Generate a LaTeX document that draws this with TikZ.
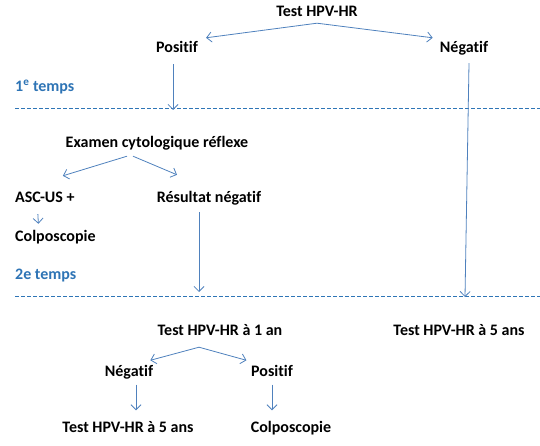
\documentclass[tikz,border=0pt]{standalone}
\usepackage{fontspec}
\setmainfont{Carlito}[Ligatures=NoCommon]
\usetikzlibrary{arrows.meta}
\definecolor{arrowblue}{HTML}{4F81BD}
\definecolor{dashblue}{HTML}{2E75B6}
\definecolor{labelblue}{HTML}{2E74B5}
\tikzset{
  lbl/.style={inner sep=2pt, text height=11pt, text depth=3pt, font=\fontsize{16}{19}\selectfont\bfseries},
  phase/.style={lbl, anchor=west, text=labelblue},
  arr/.style={draw=arrowblue, line width=0.8pt, -{Straight Barb[length=5pt,width=10pt]}},
  sep/.style={draw=dashblue, line width=0.9pt, dash pattern=on 4pt off 2pt}
}
\begin{document}
\begin{tikzpicture}[x=1pt,y=-1pt]
\useasboundingbox (0,0) rectangle (540,446);
% separators
\coordinate (s1a) at (15,108); \coordinate (s1b) at (540,108);
\coordinate (s2a) at (15,296); \coordinate (s2b) at (540,296);
\draw[sep] (s1a) -- (s1b);
\draw[sep] (s2a) -- (s2b);
% nodes
\node[lbl] (test) at (317,13) {Test HPV-HR};
\node[lbl] (pos) at (177,49) {Positif};
\node[lbl] (neg) at (464,49) {Négatif};
\node[phase] (t1) at (13,88) {1\textsuperscript{e} temps};
\node[lbl] (exam) at (157,144) {Examen cytologique réflexe};
\node[lbl, anchor=west] (asc) at (13,199) {ASC-US +};
\node[lbl] (res) at (209,199) {Résultat négatif};
\node[lbl, anchor=west] (colpo1) at (13,237) {Colposcopie};
\node[phase] (t2) at (13,275) {2e temps};
\node[lbl] (an1) at (220,331) {Test HPV-HR à 1 an};
\node[lbl] (an5r) at (459,331) {Test HPV-HR à 5 ans};
\node[lbl] (negb) at (129,372) {Négatif};
\node[lbl] (posb) at (272,372) {Positif};
\node[lbl] (an5b) at (128,428) {Test HPV-HR à 5 ans};
\node[lbl] (colpo2) at (291,428) {Colposcopie};
% arrow ends on separators
\coordinate (d1) at (173,110);
\coordinate (d2) at (465,297);
\coordinate (d3) at (199,292);
% connectors
\draw[arr] ([yshift=-1pt]test.south) -- ([xshift=6pt,yshift=2pt]pos.north east);
\draw[arr] ([yshift=-1pt]test.south) -- ([xshift=-5pt,yshift=2pt]neg.north west);
\draw[arr] ([xshift=-4pt,yshift=-6pt]pos.south) -- (d1);
\draw[arr] ([xshift=5pt,yshift=-5pt]neg.south) -- (d2);
\draw[arr] ([xshift=-30pt,yshift=-3pt]exam.south) -- ([xshift=18pt,yshift=14pt]asc.north);
\draw[arr] ([xshift=-24pt,yshift=-3pt]exam.south) -- ([xshift=-32pt,yshift=15pt]res.north);
\draw[arr] ([xshift=-7pt,yshift=-6pt]asc.south) -- ([xshift=-17pt,yshift=4pt]colpo1.north);
\draw[arr] ([xshift=-10pt,yshift=-4pt]res.south) -- (d3);
\draw[arr] ([xshift=-21pt,yshift=-7pt]an1.south) -- ([xshift=-5pt,yshift=2.5pt]negb.north east);
\draw[arr] ([xshift=-21pt,yshift=-7pt]an1.south) -- ([xshift=-2.5pt,yshift=2.5pt]posb.north west);
\draw[arr] ([xshift=7pt,yshift=-3.5pt]negb.south) -- ([xshift=8pt,yshift=8.5pt]an5b.north);
\draw[arr] ([yshift=-3.5pt]posb.south) -- ([xshift=-19pt,yshift=8.5pt]colpo2.north);
\end{tikzpicture}
\end{document}
